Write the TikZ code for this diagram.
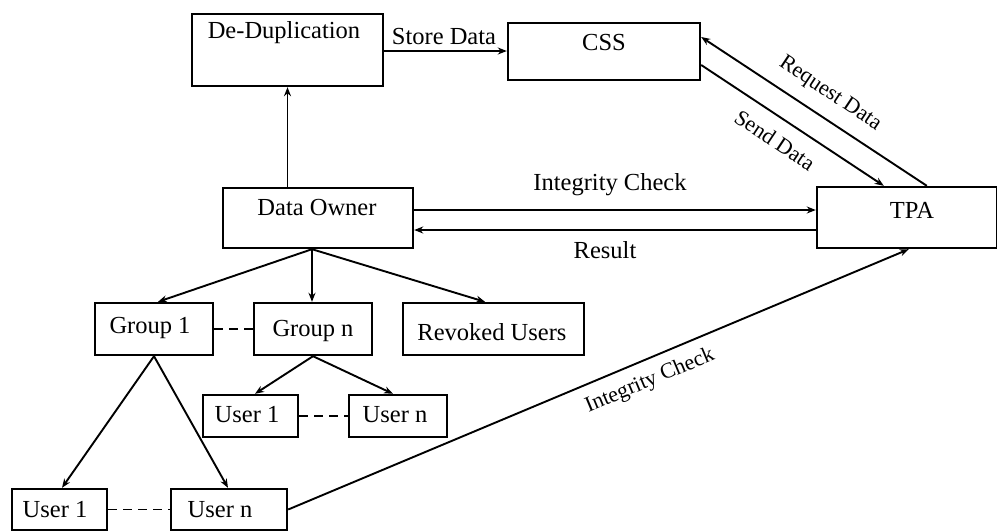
\documentclass[tikz,border=0pt]{standalone}
\usepackage{fontspec}
\setmainfont{Liberation Serif}
\usetikzlibrary{arrows.meta,calc}
\begin{document}
\begin{tikzpicture}[x=1pt,y=-1pt,
  box/.style={draw,line width=2.4pt,minimum width=#1,inner sep=0pt,anchor=center},
  txt/.style={inner sep=0pt,font=\fontsize{24.5}{28}\selectfont,anchor=center},
  rtxt/.style={inner sep=0pt,font=\fontsize{22}{26}\selectfont,anchor=center},
  conn/.style={line width=1.9pt},
  arr/.style={conn,-{Stealth[length=9pt,width=7pt]}},
  dsh/.style={conn,dash pattern=on 9pt off 6pt}]
\useasboundingbox (0,0) rectangle (997,531);
% boxes
\node[box=191pt,minimum height=72pt] (dedup) at (287.5,50) {};
\node[box=192pt,minimum height=57pt] (css) at (604,51.5) {};
\node[box=190pt,minimum height=60pt] (owner) at (318,218) {};
\node[box=180pt,minimum height=61pt] (tpa) at (907,217.5) {};
\node[box=118pt,minimum height=52pt] (g1) at (154,329) {};
\node[box=118pt,minimum height=52pt] (gn) at (313,329) {};
\node[box=181pt,minimum height=52pt] (rev) at (493.5,329) {};
\node[box=95pt,minimum height=42pt] (u1m) at (250.5,416) {};
\node[box=98pt,minimum height=42pt] (unm) at (398,416) {};
\node[box=95pt,minimum height=41pt] (u1b) at (59.5,509.5) {};
\node[box=116pt,minimum height=41pt] (unb) at (229,509.5) {};
% box texts
\node[txt] (dedupT) at (284,33) {De-Duplication};
\node[txt] (cssT) at (604,43) {CSS};
\node[txt] (ownerT) at (317,208) {Data Owner};
\node[txt] (tpaT) at (912,210) {TPA};
\node[txt] (g1T) at (150,328) {Group 1};
\node[txt] (gnT) at (313,331) {Group n};
\node[txt] (revT) at (492,332) {Revoked Users};
\node[txt] (u1mT) at (247,415) {User 1};
\node[txt] (unmT) at (395,415) {User n};
\node[txt] (u1bT) at (55,510) {User 1};
\node[txt] (unbT) at (220,510) {User n};
% coordinates on box edges
\coordinate (ownTop) at (owner.north -| dedup.south);
\coordinate (ownBot) at ($(owner.south)+(-6,0)$);
\coordinate (cssReq) at ($(css.east)+(0,-14.5)$);
\coordinate (cssSend) at ($(css.east)+(0,13.5)$);
\coordinate (tpaReq) at ($(tpa.north west)+(111,0)$);
\coordinate (tpaSend) at ($(tpa.north west)+(68,0)$);
\coordinate (tpaBot) at ($(tpa.south west)+(93,0)$);
\coordinate (ownIC) at ($(owner.east)+(0,-8)$);
\coordinate (ownRes) at ($(owner.east)+(0,12)$);
\coordinate (g1Top) at ($(g1.north)+(4,0)$);
\coordinate (g1Bot) at (g1.south);
\coordinate (gnBot) at (gn.south);
\coordinate (revTop) at ($(rev.north)+(-8.5,0)$);
\coordinate (u1mTop) at ($(u1m.north)+(4.5,0)$);
\coordinate (unmTop) at ($(unm.north)+(-5,0)$);
\coordinate (u1bTop) at ($(u1b.north)+(2.5,0)$);
\coordinate (unbTop) at ($(unb.north)+(-1,0)$);
% connectors
\draw[arr] (ownTop) -- (dedup.south);
\draw[arr] (dedup.east |- 0,51) -- (css.west |- 0,51);
\draw[arr] (tpaReq) -- (cssReq);
\draw[arr] (cssSend) -- (tpaSend);
\draw[arr] (ownIC) -- (ownIC -| tpa.west);
\draw[arr] (ownRes -| tpa.west) -- (ownRes);
\draw[arr] (ownBot) -- (g1Top);
\draw[arr] (ownBot) -- (ownBot |- gn.north);
\draw[arr] (ownBot) -- (revTop);
\draw[dsh] (g1.east) -- (gn.west);
\draw[arr] (gnBot) -- (u1mTop);
\draw[arr] (gnBot) -- (unmTop);
\draw[dsh] (u1m.east) -- (unm.west);
\draw[arr] (g1Bot) -- (u1bTop);
\draw[arr] (g1Bot) -- (unbTop);
\draw[dsh] (u1b.east) -- (unb.west);
\draw[arr] (unb.east) -- (tpaBot);
% connector labels
\node[txt] (lStore) at (444,37) {Store Data};
\node[txt] (lIC) at (610,185) {Integrity Check};
\node[txt] (lRes) at (605,250) {Result};
\node[rtxt,rotate=-33.7] (lReq) at (830,94) {Request Data};
\node[rtxt,rotate=-33.7] (lSend) at (775,140) {Send Data};
\node[rtxt,rotate=22.8] (lIC2) at (650,381) {Integrity Check};
\end{tikzpicture}
\end{document}
